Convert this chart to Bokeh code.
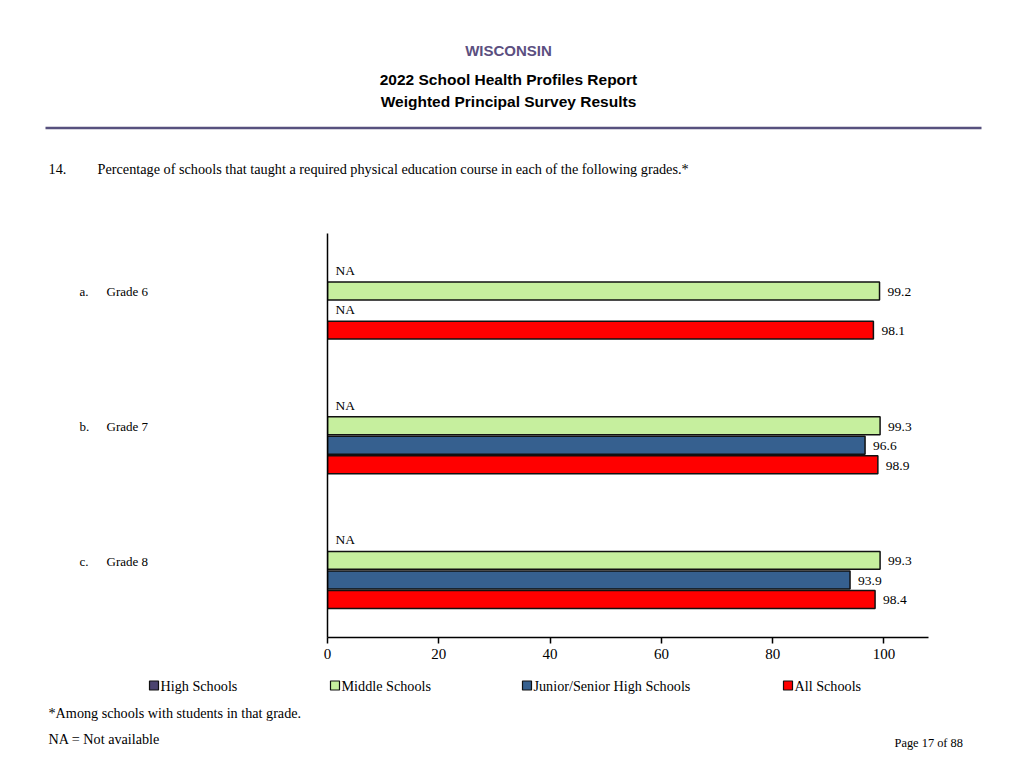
from bokeh.plotting import figure
from bokeh.models import Range1d, FixedTicker, ColumnDataSource
from bokeh.layouts import column, row
from bokeh.embed import file_html
from bokeh.resources import INLINE

# ---- data ----
categories = ["Grade 6", "Grade 7", "Grade 8"]
letters = ["a.", "b.", "c."]
series_names = ["High Schools", "Middle Schools", "Junior/Senior High Schools", "All Schools"]
high_schools = [None, None, None]
middle_schools = [99.2, 99.3, 99.3]
junior_senior = [None, 96.6, 93.9]
all_schools = [98.1, 98.9, 98.4]
x_ticks = [0, 20, 40, 60, 80, 100]

# ---- styles ----
colors = ["#4B4470", "#C6EF9E", "#36608F", "#FF0000"]
SERIF = "Liberation Serif"
SANS = "Liberation Sans"
PAGE_W, PAGE_H = 1024, 768
HEAD_H = 233          # header strip height (frame top of chart)
MID_H = 437           # chart strip height
FOOT_H = PAGE_H - HEAD_H - MID_H
LEFT_W = 307


def blank_fig(w, h, xr, yr):
    f = figure(width=w, height=h, output_backend="svg", toolbar_location=None,
               x_range=xr, y_range=yr, min_border=0)
    f.axis.visible = False
    f.grid.visible = False
    f.outline_line_color = None
    return f


def put_text(f, txt, x, y, font=SERIF, size="13px", align="left", bold=False, color="black"):
    f.text(x=[x], y=[y], text=[txt], text_font={"value": font}, text_font_size=size,
           text_align=align, text_baseline="middle", text_color=color,
           text_font_style="bold" if bold else "normal")


# ---------------- header ----------------
head = blank_fig(PAGE_W, HEAD_H, Range1d(0, PAGE_W), Range1d(HEAD_H, 0))
put_text(head, "WISCONSIN", 508, 50, font=SANS, size="15px", align="center", bold=True, color="#5B4F80")
put_text(head, "2022 School Health Profiles Report", 508, 79, font=SANS, size="15.5px", align="center", bold=True)
put_text(head, "Weighted Principal Survey Results", 508, 101, font=SANS, size="15.5px", align="center", bold=True)
head.segment(x0=[45], y0=[127.5], x1=[981], y1=[127.5], line_color="#57517E", line_width=2.5)
put_text(head, "14.", 48, 168, size="14.25px")
put_text(head, "Percentage of schools that taught a required physical education course in each of the following grades.*",
         97, 168, size="14.25px")

# ---------------- chart ----------------
y_range = Range1d(0, 3)
main = figure(width=PAGE_W - LEFT_W, height=MID_H, output_backend="svg", toolbar_location=None,
              x_range=Range1d(0, 108), y_range=y_range,
              min_border_left=20, min_border_right=PAGE_W - LEFT_W - 20 - 601,
              min_border_top=0, min_border_bottom=MID_H - 404)
main.outline_line_color = None
main.grid.visible = False

main.xaxis.ticker = FixedTicker(ticks=x_ticks)
main.xaxis.minor_tick_line_color = None
main.xaxis.major_tick_in = 0
main.xaxis.major_tick_out = 6
main.xaxis.major_label_text_font = SERIF
main.xaxis.major_label_text_font_size = "15px"
main.xaxis.major_label_text_color = "black"
main.xaxis.axis_line_width = 1.5
main.xaxis.axis_line_color = "black"
main.xaxis.major_tick_line_color = "black"
main.xaxis.major_tick_line_width = 1.5
main.xaxis.major_label_standoff = 5

main.yaxis.ticker = FixedTicker(ticks=[])
main.yaxis.minor_tick_line_color = None
main.yaxis.major_tick_line_color = None
main.yaxis.major_tick_out = 0
main.yaxis.major_label_standoff = 0
main.yaxis.major_label_text_font_size = "0px"
main.yaxis.axis_line_width = 1.5
main.yaxis.axis_line_color = "black"

n = len(categories)
centers = [n - 0.5 - i for i in range(n)]
slot = 0.145
offsets = [1.5 * slot, 0.5 * slot, -0.5 * slot, -1.5 * slot]
bar_h = 0.133

series = [high_schools, middle_schools, junior_senior, all_schools]
for s_i, vals in enumerate(series):
    ys, xs, txt, na_y = [], [], [], []
    for c_i, v in enumerate(vals):
        y = centers[c_i] + offsets[s_i]
        if v is None:
            na_y.append(y)
        else:
            ys.append(y)
            xs.append(v)
            txt.append(f"{v:.1f}")
    src = ColumnDataSource(dict(y=ys, right=xs, text=txt))
    main.hbar(y="y", left=0, right="right", height=bar_h, source=src,
              fill_color=colors[s_i], line_color="#111111", line_width=1.5)
    main.text(x="right", y="y", text="text", source=src, x_offset=8, y_offset=1,
              text_font={"value": SERIF}, text_font_size="13.5px", text_baseline="middle",
              text_align="left", text_color="black")
    if na_y:
        nsrc = ColumnDataSource(dict(y=na_y, x=[0] * len(na_y), text=["NA"] * len(na_y)))
        main.text(x="x", y="y", text="text", source=nsrc, x_offset=8, y_offset=-1,
                  text_font={"value": SERIF}, text_font_size="13.5px", text_baseline="middle",
                  text_align="left", text_color="black")

# category labels (left strip sharing the chart's y range)
left = figure(width=LEFT_W, height=MID_H, output_backend="svg", toolbar_location=None,
              x_range=Range1d(0, LEFT_W), y_range=y_range,
              min_border_left=0, min_border_right=0, min_border_top=0,
              min_border_bottom=MID_H - 404)
left.axis.visible = False
left.grid.visible = False
left.outline_line_color = None
left.text(x=[79] * n, y=centers, text=letters, y_offset=-9,
          text_font={"value": SERIF}, text_font_size="13px", text_baseline="middle",
          text_align="left", text_color="black")
left.text(x=[106] * n, y=centers, text=categories, y_offset=-9,
          text_font={"value": SERIF}, text_font_size="13px", text_baseline="middle",
          text_align="left", text_color="black")

# ---------------- footer ----------------
foot = blank_fig(PAGE_W, FOOT_H, Range1d(0, PAGE_W), Range1d(PAGE_H, HEAD_H + MID_H))
legend_x = [149, 330, 522, 783]          # left edge of each legend key (page px)
key_src = ColumnDataSource(dict(x=[lx + 4.5 for lx in legend_x], y=[685] * 4,
                                tx=[lx + 11 for lx in legend_x],
                                color=colors, name=series_names))
foot.rect(x="x", y="y", width=9, height=9, source=key_src, fill_color="color",
          line_color="#111111", line_width=1.2)
foot.text(x="tx", y="y", text="name", source=key_src, text_font={"value": SERIF},
          text_font_size="14.2px", text_baseline="middle", text_align="left", text_color="black")
put_text(foot, "*Among schools with students in that grade.", 48, 712, size="14.2px")
put_text(foot, "NA = Not available", 48, 738, size="14.2px")
put_text(foot, "Page 17 of 88", 894, 742, size="12.4px")

layout = column(head, row(left, main, spacing=0), foot, spacing=0)
open("out.html", "w").write(file_html(layout, INLINE))
